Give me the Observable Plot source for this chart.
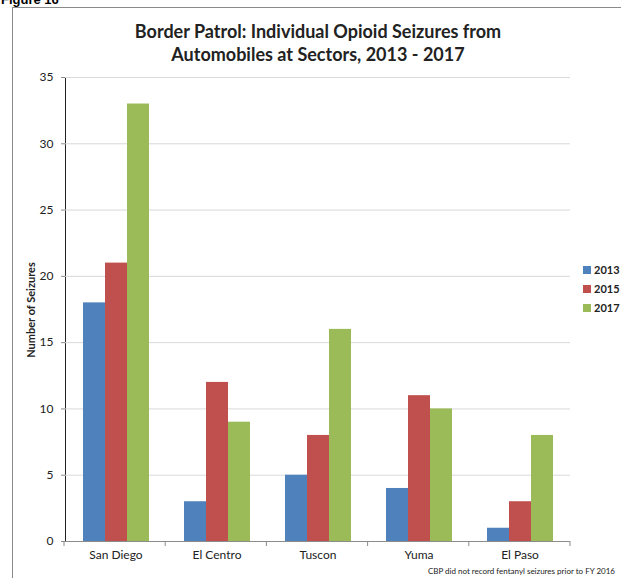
<!DOCTYPE html>
<html>
<head>
<meta charset="utf-8">
<script src="https://cdn.jsdelivr.net/npm/d3@7"></script>
<script src="https://cdn.jsdelivr.net/npm/@observablehq/plot@0.6"></script>
<style>
  html, body { margin: 0; padding: 0; background: #fff; }
  #wrap { position: relative; width: 621px; height: 578px; overflow: hidden; background: #fff; font-family: Lato, "Open Sans", sans-serif; color: #222; }
  #fig { position: absolute; left: 1px; top: -8px; font: bold 13px Arial, "Liberation Sans", sans-serif; color: #000; }
  #box { position: absolute; left: 12px; top: 7px; width: 700px; height: 700px; border: 1px solid #8a8a8a; }
  #title { position: absolute; left: 0; width: 636px; top: 20px; text-align: center; font-weight: bold; font-size: 18px; line-height: 23px; color: #222; }
  #ylab { position: absolute; left: 30px; top: 310px; transform: translate(-50%, -50%) rotate(-90deg); white-space: nowrap; font-weight: bold; font-size: 11px; color: #222; }
  #legend { position: absolute; left: 583px; top: 260px; font-weight: bold; font-size: 11px; }
  #legend div { height: 19px; line-height: 16px; display: flex; align-items: center; white-space: nowrap; }
  #legend span.sw { display: inline-block; width: 8px; height: 8px; margin-right: 3px; }
  #cap { position: absolute; right: 6px; top: 566px; font-size: 8px; color: #222; }
  #chart { position: absolute; left: 0; top: 0; }
</style>
</head>
<body>
<div id="wrap">
  <div id="box"></div>
  <div id="fig">Figure 16</div>
  <div id="chart"></div>
  <div id="title">Border Patrol: Individual Opioid Seizures from<br>Automobiles at Sectors, 2013 - 2017</div>
  <div id="ylab">Number of Seizures</div>
  <div id="legend"></div>
  <div id="cap">CBP did not record fentanyl seizures prior to FY 2016</div>
</div>
<script>
const sectors = ["San Diego", "El Centro", "Tuscon", "Yuma", "El Paso"];
const years = ["2013", "2015", "2017"];
const values2013 = [18, 3, 5, 4, 1];
const values2015 = [21, 12, 8, 11, 3];
const values2017 = [33, 9, 16, 10, 8];
const colors = ["#4F81BD", "#C0504D", "#9BBB59"];
const yTicks = [0, 5, 10, 15, 20, 25, 30, 35];

const series = [values2013, values2015, values2017];
const data = [];
sectors.forEach((s, i) => years.forEach((y, j) => data.push({sector: s, year: y, value: series[j][i]})));

const plot = Plot.plot({
  width: 621,
  height: 578,
  marginLeft: 64,
  marginRight: 51,
  marginTop: 77,
  marginBottom: 37,
  style: {fontFamily: "Lato, 'Open Sans', sans-serif", fontSize: "12px", background: "transparent", color: "#222"},
  fx: {domain: sectors, padding: 0, label: null, tickSize: 0, tickPadding: 9},
  x: {domain: years, paddingInner: 0, paddingOuter: 0.76, axis: null},
  y: {domain: [0, 35], ticks: yTicks, label: null, tickSize: 4, tickPadding: 8, line: true},
  color: {domain: years, range: colors},
  marks: [
    Plot.ruleY(yTicks, {stroke: "#d9d9d9", strokeWidth: 1}),
    Plot.barY(data, {fx: "sector", x: "year", y: "value", fill: "year"}),
    Plot.ruleY([0], {stroke: "#8c8c8c", strokeWidth: 1})
  ]
});
document.getElementById("chart").appendChild(plot);

// gray axis strokes
d3.select(plot).selectAll("g").filter(function() { return (this.getAttribute("aria-label") || "").startsWith("y-axis"); })
  .selectAll("line, path").attr("stroke", "#8c8c8c");

// category boundary ticks from the fx scale
const fx = plot.scale("fx");
const band = d3.scaleBand().domain(fx.domain).range(fx.range).padding(0);
const yS = plot.scale("y");
const y0 = d3.scaleLinear().domain(yS.domain).range(yS.range)(0);
const bounds = sectors.map(s => band(s)).concat([band(sectors[sectors.length - 1]) + band.bandwidth()]);
d3.select(plot).append("g").selectAll("line").data(bounds).join("line")
  .attr("x1", d => d).attr("x2", d => d).attr("y1", y0).attr("y2", y0 + 5)
  .attr("stroke", "#8c8c8c");

// legend
const leg = d3.select("#legend");
years.forEach((y, i) => {
  const row = leg.append("div");
  row.append("span").attr("class", "sw").style("background", colors[i]);
  row.append("span").text(y);
});
</script>
</body>
</html>
